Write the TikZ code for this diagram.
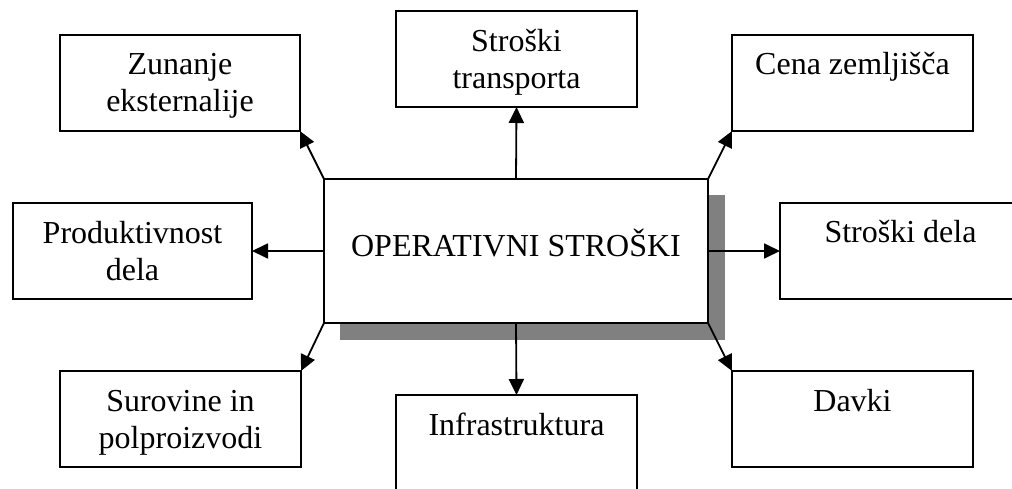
\documentclass[tikz,border=0pt]{standalone}
\usepackage{fontspec}
\setmainfont{Liberation Serif}
\usetikzlibrary{arrows.meta}
\definecolor{shadowgray}{RGB}{128,128,128}
\tikzset{
  sat/.style={draw=black, line width=1.8pt, fill=white, inner sep=0pt, outer sep=0pt,
    font=\fontsize{32}{37}\selectfont},
  arr/.style={line width=1.8pt, -{Triangle[length=16pt,width=15pt]}},
}
\begin{document}
\begin{tikzpicture}[x=1pt,y=-1pt]
\useasboundingbox (0,0) rectangle (1012,489);
\clip (0,0) rectangle (1012,489);
% shadow
\fill[shadowgray] (340,195) rectangle (725,340);
% main
\node[sat] (main) at (516,251) {\parbox[c][144pt][t]{384pt}{\centering\rule{0pt}{78pt}OPERATIVNI STROŠKI}};
% satellites
\node[sat] (zun) at (180,83) {\parbox[c][96pt][t]{240pt}{\centering\rule{0pt}{40pt}Zunanje\\eksternalije}};
\node[sat] (trans) at (516.5,59) {\parbox[c][96pt][t]{241pt}{\centering\rule{0pt}{41pt}Stroški\\transporta}};
\node[sat] (cena) at (852.5,83) {\parbox[c][96pt][t]{241pt}{\centering\rule{0pt}{40pt}Cena zemljišča}};
\node[sat] (prod) at (132.5,251) {\parbox[c][96pt][t]{239pt}{\centering\rule{0pt}{41pt}Produktivnost\\dela}};
\node[sat] (dela) at (900.5,251) {\parbox[c][96pt][t]{241pt}{\centering\rule{0pt}{40pt}Stroški dela}};
\node[sat] (sur) at (180.5,419) {\parbox[c][96pt][t]{241pt}{\centering\rule{0pt}{40pt}Surovine in\\polproizvodi}};
\node[sat] (infra) at (516.5,443) {\parbox[c][96pt][t]{241pt}{\centering\rule{0pt}{40pt}Infrastruktura}};
\node[sat] (davki) at (852.5,419) {\parbox[c][96pt][t]{241pt}{\centering\rule{0pt}{40pt}Davki}};
% connectors
\draw[arr] (main.north west) -- (zun.south east);
\draw[arr] (main.north) -- (trans.south);
\draw[arr] (main.north east) -- (cena.south west);
\draw[arr] (main.west) -- (prod.east);
\draw[arr] (main.east) -- (dela.west);
\draw[arr] (main.south west) -- (sur.north east);
\draw[arr] (main.south) -- (infra.north);
\draw[arr] (main.south east) -- (davki.north west);
\end{tikzpicture}
\end{document}
